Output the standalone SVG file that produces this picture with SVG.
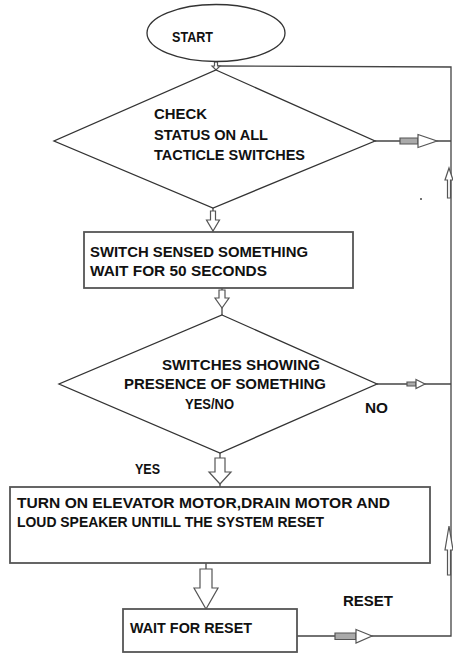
<svg xmlns="http://www.w3.org/2000/svg" width="453" height="654" viewBox="0 0 453 654">
<style>
text{font-family:"Liberation Sans",Arial,sans-serif;font-weight:bold;font-size:15px;fill:#111}
.shape{fill:#fff;stroke:#333;stroke-width:1.3}
.box{fill:#fff;stroke:#555;stroke-width:1.8}
.line{fill:none;stroke:#444;stroke-width:1.3}
.arr{fill:#fff;stroke:#555;stroke-width:1.2;stroke-linejoin:miter}
.arrg{fill:#aaa;stroke:#555;stroke-width:1.2}
</style>
<rect width="453" height="654" fill="#fff"/>
<g id="connectors">
<polyline class="line" points="216,66 451,67 451,636 297,636"/>
<line class="line" x1="375" y1="141" x2="451" y2="141"/>
<line class="line" x1="377" y1="384" x2="451" y2="384"/>
<line class="line" x1="213" y1="208" x2="213" y2="232"/>
<line class="line" x1="222" y1="288" x2="222" y2="315"/>
<line class="line" x1="220" y1="453" x2="220" y2="487"/>
<line class="line" x1="206" y1="563" x2="206" y2="569"/>
<polygon class="arr" points="214.5,62 217.5,62 217.5,66 220,66 216,70 212,66 214.5,66"/>
<polygon class="arr" points="210.5,211 215.5,211 215.5,220 219.5,220 213,231 206.5,220 210.5,220"/>
<polygon class="arr" points="219,290 225,290 225,298 229,298 222,308 215,298 219,298"/>
<polygon class="arr" points="215,458 225,458 225,472 231,472 220,484 209,472 215,472"/>
<polygon class="arr" points="200,569 212,569 212,588 218,588 206,609 194,588 200,588"/>
<polygon class="arrg" points="400,138 418,138 418,144 400,144"/>
<polygon class="arr" points="418,134.5 437,141 418,147.5 418,144 418,138"/>
<polygon class="arrg" points="407,382 416,382 416,386 407,386"/>
<polygon class="arr" points="416,379.5 425,384 416,388.5"/>
<polygon class="arrg" points="335,633 356,633 356,639.5 335,639.5"/>
<polygon class="arr" points="356,629.5 372,636 356,643"/>
<polygon class="arr" points="447.5,198 450.5,198 450.5,180 453,180 449,168 445,180 447.5,180"/>
<polygon class="arr" points="447.5,575 450.5,575 450.5,550 453,550 449,526 445,550 447.5,550"/>
<circle cx="421" cy="199" r="1" fill="#444"/>
</g>
<g id="start">
<ellipse class="shape" cx="216" cy="33" rx="69" ry="28.5"/>
<text x="172" y="42" textLength="41" lengthAdjust="spacingAndGlyphs">START</text>
</g>
<g id="check">
<polygon class="shape" points="216,70 375,141 213,208 54,141"/>
<text x="154" y="119" textLength="53" lengthAdjust="spacingAndGlyphs">CHECK</text>
<text x="154" y="140" textLength="114" lengthAdjust="spacingAndGlyphs">STATUS ON ALL</text>
<text x="154" y="160" textLength="151" lengthAdjust="spacingAndGlyphs">TACTICLE SWITCHES</text>
</g>
<g id="sensed">
<rect class="box" x="84" y="232" width="269" height="56"/>
<text x="90" y="257" textLength="218" lengthAdjust="spacingAndGlyphs">SWITCH SENSED SOMETHING</text>
<text x="90" y="276" textLength="177" lengthAdjust="spacingAndGlyphs">WAIT FOR 50 SECONDS</text>
</g>
<g id="presence">
<polygon class="shape" points="222,315 377,384 220,453 59,384"/>
<text x="162" y="370" textLength="158" lengthAdjust="spacingAndGlyphs">SWITCHES SHOWING</text>
<text x="124" y="389" textLength="202" lengthAdjust="spacingAndGlyphs">PRESENCE OF SOMETHING</text>
<text x="185" y="409" textLength="49" lengthAdjust="spacingAndGlyphs">YES/NO</text>
</g>
<g id="labels">
<text x="365" y="413" textLength="23" lengthAdjust="spacingAndGlyphs">NO</text>
<text x="135" y="474" textLength="25" lengthAdjust="spacingAndGlyphs">YES</text>
<text x="343" y="606" textLength="50" lengthAdjust="spacingAndGlyphs">RESET</text>
</g>
<g id="turnon">
<rect class="box" x="10" y="487" width="420" height="76"/>
<text x="17" y="508" textLength="373" lengthAdjust="spacingAndGlyphs">TURN ON ELEVATOR MOTOR,DRAIN MOTOR AND</text>
<text x="17" y="527" textLength="307" lengthAdjust="spacingAndGlyphs">LOUD SPEAKER UNTILL THE SYSTEM RESET</text>
</g>
<g id="waitreset">
<rect class="box" x="123" y="609" width="174" height="43"/>
<text x="130" y="633" textLength="122" lengthAdjust="spacingAndGlyphs">WAIT FOR RESET</text>
</g>
</svg>
